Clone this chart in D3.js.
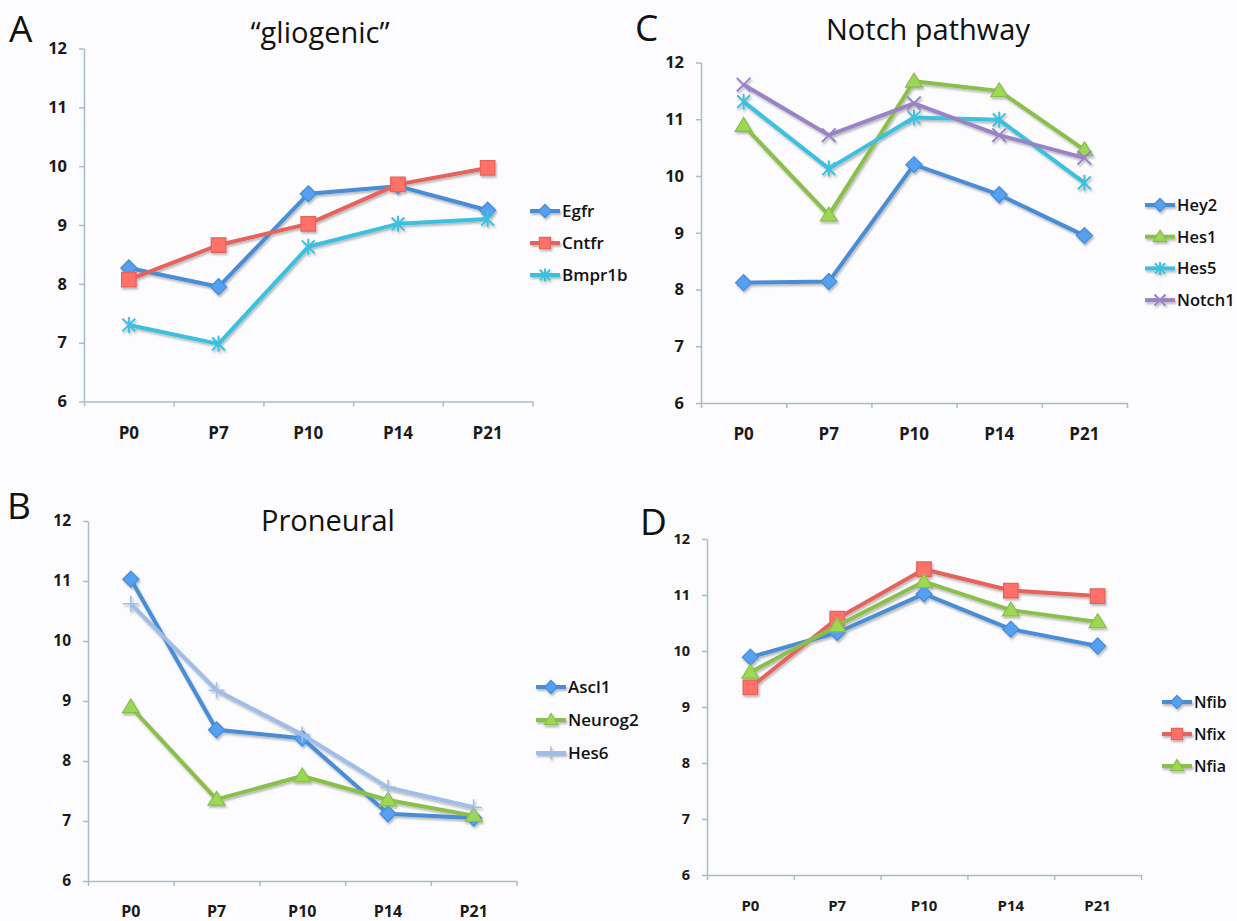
<!DOCTYPE html>
<html>
<head>
<meta charset="utf-8">
<script src="https://cdn.jsdelivr.net/npm/d3@7"></script>
<style>
  body { margin: 0; background: #fcfcfe; }
  svg { display: block; }
</style>
</head>
<body>
<div class="fig"></div>
<script>
// stages on the x axis and tick values on the y axis
var stages = ["P0", "P7", "P10", "P14", "P21"];
var yTicks = [6, 7, 8, 9, 10, 11, 12];

// A "gliogenic"
var egfr   = [8.27, 7.95, 9.53, 9.66, 9.25];
var cntfr  = [8.07, 8.66, 9.02, 9.69, 9.97];
var bmpr1b = [7.30, 6.98, 8.63, 9.02, 9.10];

// C Notch pathway
var hey2   = [8.12, 8.14, 10.20, 9.67, 8.95];
var hes1   = [10.89, 9.31, 11.67, 11.50, 10.46];
var hes5   = [11.31, 10.13, 11.03, 10.99, 9.88];
var notch1 = [11.61, 10.72, 11.28, 10.72, 10.32];

// B Proneural
var ascl1   = [11.03, 8.52, 8.38, 7.12, 7.05];
var neurog2 = [8.90, 7.36, 7.75, 7.35, 7.09];
var hes6    = [10.62, 9.18, 8.44, 7.56, 7.23];

// D
var nfib = [9.89, 10.33, 11.02, 10.39, 10.09];
var nfix = [9.35, 10.58, 11.46, 11.08, 10.98];
var nfia = [9.62, 10.45, 11.24, 10.73, 10.52];

var W = 1237, H = 921;
var axisColor = '#a8bccb';
var fontFam = '"Open Sans", "Noto Sans", sans-serif';

var colBlue = '#4a8dd5', colRed = '#e4645d', colCyan = '#3ec0de',
    colGreen = '#8bbf4b', colPurple = '#9a83c5', colLight = '#9fbde6';

var panels = [
  { letter: 'A', title: '\u201cgliogenic\u201d',
    series: [
      {name: 'Egfr', values: egfr, color: colBlue, marker: 'diamond'},
      {name: 'Cntfr', values: cntfr, color: colRed, marker: 'square'},
      {name: 'Bmpr1b', values: bmpr1b, color: colCyan, marker: 'asterisk'}
    ],
    left: 84, right: 532.5, top: 48.5, bottom: 401.5,
    titleX: 320, titleY: 43, letterX: 9, letterY: 42,
    legendX: 530, legendY: 211, legendGap: 32, legendFont: 17, tickFont: 16.5 },
  { letter: 'C', title: 'Notch pathway',
    series: [
      {name: 'Hey2', values: hey2, color: colBlue, marker: 'diamond'},
      {name: 'Hes1', values: hes1, color: colGreen, marker: 'triangle'},
      {name: 'Hes5', values: hes5, color: colCyan, marker: 'asterisk'},
      {name: 'Notch1', values: notch1, color: colPurple, marker: 'times'}
    ],
    left: 701, right: 1127, top: 62.5, bottom: 403,
    titleX: 928, titleY: 40, letterX: 635, letterY: 41,
    legendX: 1145, legendY: 205, legendGap: 31.7, legendFont: 16.5, tickFont: 16.5 },
  { letter: 'B', title: 'Proneural',
    series: [
      {name: 'Ascl1', values: ascl1, color: colBlue, marker: 'diamond'},
      {name: 'Neurog2', values: neurog2, color: colGreen, marker: 'triangle'},
      {name: 'Hes6', values: hes6, color: colLight, marker: 'plus'}
    ],
    left: 88, right: 516.5, top: 521, bottom: 881,
    titleX: 328, titleY: 531, letterX: 7, letterY: 519,
    legendX: 536, legendY: 687, legendGap: 33, legendFont: 17, tickFont: 15.5 },
  { letter: 'D', title: '',
    series: [
      {name: 'Nfib', values: nfib, color: colBlue, marker: 'diamond'},
      {name: 'Nfix', values: nfix, color: colRed, marker: 'square'},
      {name: 'Nfia', values: nfia, color: colGreen, marker: 'triangle'}
    ],
    left: 707, right: 1141, top: 539, bottom: 875,
    titleX: 925, titleY: 540, letterX: 640, letterY: 535,
    legendX: 1162, legendY: 702, legendGap: 32, legendFont: 16, tickFont: 14.5 }
];

function markerPath(type, s) {
  if (type == 'diamond') return 'M0,' + (-s) + 'L' + s + ',0L0,' + s + 'L' + (-s) + ',0Z';
  if (type == 'square') { var h = s * 0.85; return 'M' + (-h) + ',' + (-h) + 'H' + h + 'V' + h + 'H' + (-h) + 'Z'; }
  if (type == 'triangle') return 'M0,' + (-s) + 'L' + (s * 1.05) + ',' + (s * 0.72) + 'L' + (-s * 1.05) + ',' + (s * 0.72) + 'Z';
  if (type == 'asterisk') {
    var a = s * 0.8;
    return 'M' + (-a) + ',' + (-a) + 'L' + a + ',' + a + 'M' + (-a) + ',' + a + 'L' + a + ',' + (-a) +
           'M0,' + (-s) + 'V' + s;
  }
  if (type == 'times') { var t = s * 0.85; return 'M' + (-t) + ',' + (-t) + 'L' + t + ',' + t + 'M' + (-t) + ',' + t + 'L' + t + ',' + (-t); }
  if (type == 'plus') return 'M' + (-s) + ',0H' + s + 'M0,' + (-s) + 'V' + s;
  return '';
}
function isStroke(type) { return type == 'asterisk' || type == 'times' || type == 'plus'; }

function drawMarker(g, type, color, s) {
  var p = g.append('path').attr('d', markerPath(type, s));
  if (isStroke(type)) {
    p.attr('fill', 'none').attr('stroke', color).attr('stroke-width', type == 'plus' ? 1.6 : 2);
  } else {
    p.attr('fill', d3.color(color).brighter(0.35)).attr('stroke', color).attr('stroke-width', 1.3);
  }
  return p;
}

var svg = d3.select('.fig').append('svg')
    .attr('width', W).attr('height', H);

svg.append('rect').attr('width', W).attr('height', H).attr('fill', '#fcfcfe');

var defs = svg.append('defs');
var filt = defs.append('filter').attr('id', 'shadow')
    .attr('x', '-5%').attr('y', '-5%').attr('width', '115%').attr('height', '120%');
filt.append('feDropShadow')
    .attr('dx', 1.2).attr('dy', 2).attr('stdDeviation', 1.3)
    .attr('flood-color', '#000').attr('flood-opacity', 0.28);

panels.forEach(function (p) {
  var g = svg.append('g');

  var y = d3.scaleLinear().domain([6, 12]).range([p.bottom, p.top]);
  var x = d3.scaleBand().domain(stages).range([p.left, p.right]);
  var xb = d3.scaleLinear().domain([0, stages.length]).range([p.left, p.right]);

  // y axis
  var yAxis = g.append('g')
      .attr('transform', 'translate(' + p.left + ',0)')
      .call(d3.axisLeft(y).tickValues(yTicks).tickFormat(d3.format('d'))
              .tickSize(5).tickSizeOuter(0).tickPadding(12));
  yAxis.select('.domain').attr('stroke', axisColor).attr('stroke-width', 1.5);
  yAxis.selectAll('.tick line').attr('stroke', axisColor).attr('stroke-width', 1.5);
  yAxis.selectAll('.tick text')
      .attr('font-family', fontFam).attr('font-size', p.tickFont)
      .attr('font-weight', 700).attr('fill', '#1a1a1a');

  // x axis: ticks between categories
  var xTickAxis = g.append('g')
      .attr('transform', 'translate(0,' + p.bottom + ')')
      .call(d3.axisBottom(xb).tickValues(d3.range(stages.length + 1)).tickSize(5).tickSizeOuter(0).tickFormat(''));
  xTickAxis.select('.domain').attr('stroke', axisColor).attr('stroke-width', 1.5);
  xTickAxis.selectAll('.tick line').attr('stroke', axisColor).attr('stroke-width', 1.5);

  // x labels
  var xLab = g.append('g')
      .attr('transform', 'translate(0,' + p.bottom + ')')
      .call(d3.axisBottom(x).tickSize(0).tickPadding(25));
  xLab.select('.domain').remove();
  xLab.selectAll('.tick text')
      .attr('font-family', fontFam).attr('font-size', p.tickFont + 0.5)
      .attr('font-weight', 700).attr('fill', '#1a1a1a');

  // series
  var line = d3.line()
      .x(function (d, i) { return x(stages[i]) + x.bandwidth() / 2; })
      .y(function (d) { return y(d); });

  var sg = g.append('g').attr('filter', 'url(#shadow)');
  p.series.forEach(function (s) {
    sg.append('path')
      .datum(s.values)
      .attr('d', line)
      .attr('fill', 'none')
      .attr('stroke', s.color)
      .attr('stroke-width', 4)
      .attr('stroke-linejoin', 'round');
    s.values.forEach(function (v, i) {
      var mg = sg.append('g')
          .attr('transform', 'translate(' + (x(stages[i]) + x.bandwidth() / 2) + ',' + y(v) + ')');
      drawMarker(mg, s.marker, s.color, s.marker == 'square' ? 8.5 : 8);
    });
  });

  // legend
  var lg = g.append('g').attr('filter', 'url(#shadow)');
  p.series.forEach(function (s, i) {
    var ly = p.legendY + i * p.legendGap;
    lg.append('line')
      .attr('x1', p.legendX).attr('x2', p.legendX + 30)
      .attr('y1', ly).attr('y2', ly)
      .attr('stroke', s.color).attr('stroke-width', 4);
    var mg = lg.append('g').attr('transform', 'translate(' + (p.legendX + 15) + ',' + ly + ')');
    drawMarker(mg, s.marker, s.color, 6.5);
  });
  p.series.forEach(function (s, i) {
    var ly = p.legendY + i * p.legendGap;
    g.append('text')
      .attr('x', p.legendX + 32).attr('y', ly)
      .attr('dy', '0.36em')
      .attr('font-family', fontFam).attr('font-size', p.legendFont)
      .attr('font-weight', 600).attr('fill', '#111')
      .text(s.name);
  });

  // title and panel letter
  if (p.title) {
    g.append('text')
      .attr('x', p.titleX).attr('y', p.titleY)
      .attr('text-anchor', 'middle')
      .attr('font-family', fontFam).attr('font-size', 29)
      .attr('fill', '#111')
      .text(p.title);
  }
  g.append('text')
    .attr('x', p.letterX).attr('y', p.letterY)
    .attr('font-family', fontFam).attr('font-size', 37)
    .attr('fill', '#111')
    .text(p.letter);
});
</script>
</body>
</html>
